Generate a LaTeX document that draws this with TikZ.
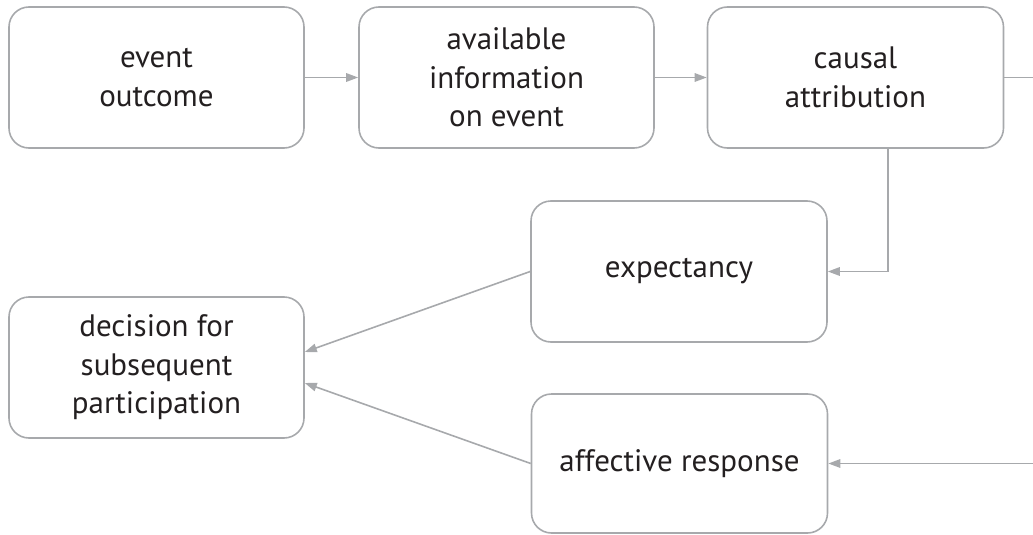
\documentclass[tikz,border=0pt]{standalone}
\usepackage{fontspec}
\setmainfont{PT Sans}
\usetikzlibrary{arrows.meta,calc}
\definecolor{linegray}{HTML}{A7A9AC}
\definecolor{txt}{HTML}{231F20}
\tikzset{
  box/.style={draw=linegray, line width=1.6pt, rounded corners=20pt, align=center,
    text=txt, font=\fontsize{31}{38.5}\selectfont, inner sep=0pt},
  conn/.style={draw=linegray, line width=1.6pt, -{Triangle[length=12pt,width=8.5pt]}},
  plain/.style={draw=linegray, line width=1.6pt}
}
\begin{document}
\begin{tikzpicture}[x=1pt,y=-1pt]
\useasboundingbox (0,0) rectangle (1033,535);
\node[box, minimum width=295pt, minimum height=141pt] (ev) at (156.5,77.5) {event\\outcome};
\node[box, minimum width=295pt, minimum height=141pt] (info) at (506.5,77.5) {available\\information\\on event};
\node[box, minimum width=296pt, minimum height=141pt] (caus) at (855.5,77.5) {causal\\attribution};
\node[box, minimum width=296pt, minimum height=141pt] (exp) at (679,271.5) {expectancy};
\node[box, minimum width=296pt, minimum height=139pt] (aff) at (679.5,463.5) {affective response};
\node[box, minimum width=295pt, minimum height=141pt] (dec) at (156.5,367.5) {decision for\\subsequent\\participation};
\coordinate (r1) at (1033,77.5);
\coordinate (r2) at (1033,463.5);
\draw[conn] (ev) -- (info);
\draw[conn] (info) -- (caus);
\draw[plain] (caus.east) -- (r1);
\draw[conn] ([xshift=32.5pt]caus.south) |- (exp.east);
\draw[conn] (r2) -- (aff.east);
\draw[conn] (exp.west) -- ([yshift=15.5pt]dec.east);
\draw[conn] (aff.west) -- ([yshift=-15.5pt]dec.east);
\end{tikzpicture}
\end{document}
